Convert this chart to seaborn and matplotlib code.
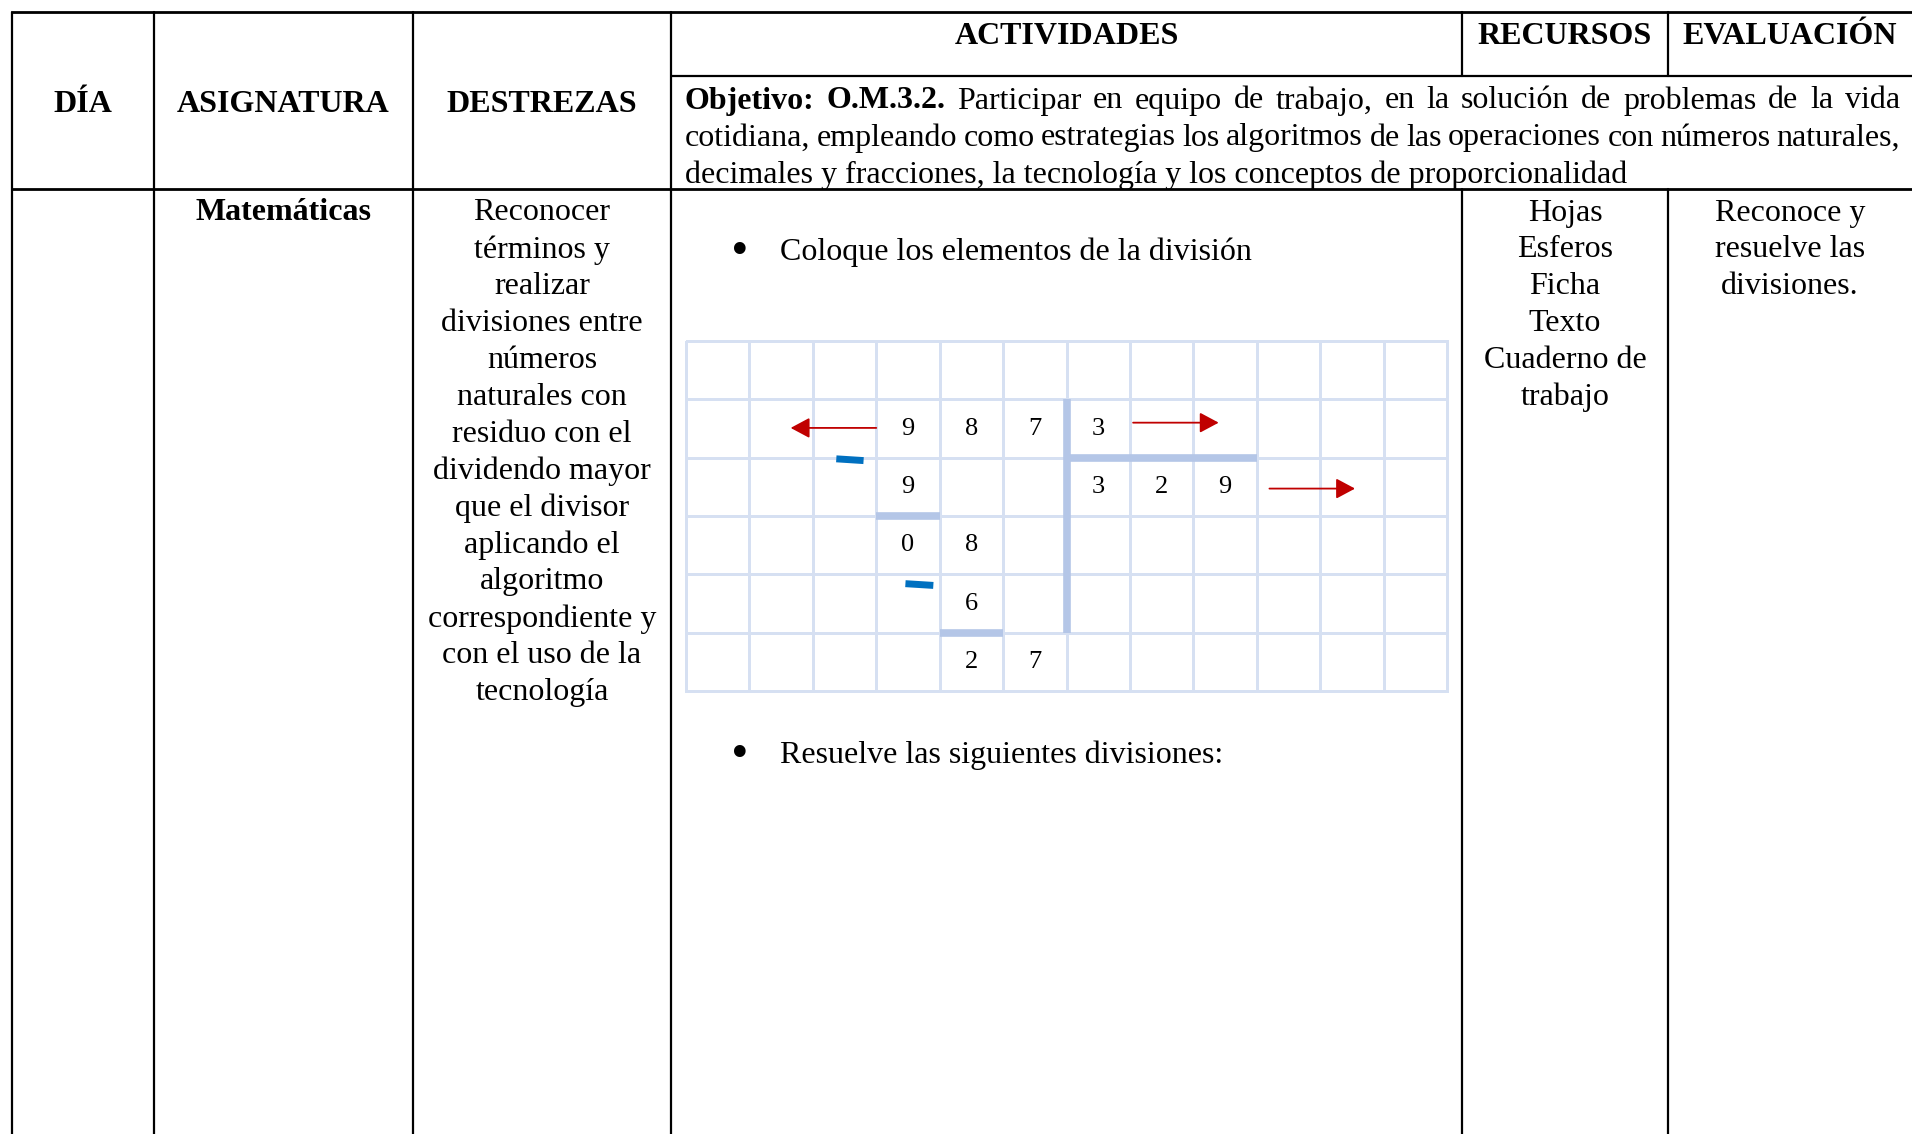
import numpy as np
import matplotlib
matplotlib.use("Agg")
import matplotlib.pyplot as plt
from matplotlib.colors import ListedColormap
import seaborn as sns

# ---------------- content ----------------
headers = ["DÍA", "ASIGNATURA", "DESTREZAS"]
top_headers = ["ACTIVIDADES", "RECURSOS", "EVALUACIÓN"]
objetivo_bold = ["Objetivo:", "O.M.3.2."]
objetivo_line1 = "Participar en equipo de trabajo, en la solución de problemas de la vida"
objetivo_line2 = "cotidiana, empleando como estrategias los algoritmos de las operaciones con números naturales,"
objetivo_line3 = "decimales y fracciones, la tecnología y los conceptos de proporcionalidad"
asignatura = "Matemáticas"
destrezas = ["Reconocer", "términos y", "realizar", "divisiones entre", "números",
             "naturales con", "residuo con el", "dividendo mayor", "que el divisor",
             "aplicando el", "algoritmo", "correspondiente y", "con el uso de la",
             "tecnología"]
recursos = ["Hojas", "Esferos", "Ficha", "Texto", "Cuaderno de", "trabajo"]
evaluacion = ["Reconoce y", "resuelve las", "divisiones."]
bullets = ["Coloque los elementos de la división", "Resuelve las siguientes divisiones:"]

# division grid (6 rows x 12 cols) contents
grid_rows, grid_cols = 6, 12
grid_digits = [  # (row, col, digit)
    (1, 3, "9"), (1, 4, "8"), (1, 5, "7"), (1, 6, "3"),
    (2, 3, "9"), (2, 6, "3"), (2, 7, "2"), (2, 8, "9"),
    (3, 3, "0"), (3, 4, "8"),
    (4, 4, "6"),
    (5, 4, "2"), (5, 5, "7"),
]

# ---------------- style ----------------
sns.set_theme(style="white")
plt.rcParams["font.family"] = ["Liberation Serif", "DejaVu Serif"]
plt.rcParams["text.color"] = "black"

W, H = 1912, 1134
fig = plt.figure(figsize=(W / 100, H / 100), dpi=100)
ax = fig.add_axes([0, 0, 1, 1])
ax.set_xlim(0, W)
ax.set_ylim(H, 0)
ax.axis("off")

FS = 23
lw_tab = 1.6
cols = [12, 154, 413, 671, 1462, 1668, W]
y_top, y_mid, y_head = 12, 76, 189
dy = 4  # baseline correction for centred text

# table lines
ax.plot([cols[0], W], [y_top, y_top], color="black", lw=lw_tab + 0.4, solid_capstyle="butt")
ax.plot([cols[3], W], [y_mid, y_mid], color="black", lw=lw_tab, solid_capstyle="butt")
ax.plot([cols[0], W], [y_head, y_head], color="black", lw=lw_tab + 0.4, solid_capstyle="butt")
for x in cols[:4]:
    ax.plot([x, x], [y_top, H], color="black", lw=lw_tab)
for x in cols[4:6]:
    ax.plot([x, x], [y_top, y_mid], color="black", lw=lw_tab)
    ax.plot([x, x], [y_head, H], color="black", lw=lw_tab)

# headers
for i, t in enumerate(headers):
    ax.text((cols[i] + cols[i + 1]) / 2, 101 + dy, t, ha="center", va="center",
            fontsize=FS, fontweight="bold")
for i, t in enumerate(top_headers):
    ax.text((cols[3 + i] + cols[4 + i]) / 2, 32 + dy, t, ha="center", va="center",
            fontsize=FS, fontweight="bold")

# objetivo justified text
fig.canvas.draw()
renderer = fig.canvas.get_renderer()


def justify(words, x0, x1, y):
    objs = []
    for w, bold in words:
        t = ax.text(0, y, w, ha="left", va="center", fontsize=FS,
                    fontweight="bold" if bold else "normal")
        objs.append(t)
    widths = [t.get_window_extent(renderer=renderer).width for t in objs]
    gap = (x1 - x0 - sum(widths)) / (len(objs) - 1)
    x = x0
    for t, w in zip(objs, widths):
        t.set_x(x)
        x += w + gap


xl, xr = 685, 1900
justify([(w, True) for w in objetivo_bold] + [(w, False) for w in objetivo_line1.split()],
        xl, xr, 97 + dy)
justify([(w, False) for w in objetivo_line2.split()], xl, xr, 134 + dy)
ax.text(xl, 171 + dy, objetivo_line3, ha="left", va="center", fontsize=FS)

# body column texts
step = 36.9
y0 = 209 + dy
ax.text((cols[1] + cols[2]) / 2, y0, asignatura, ha="center", va="center",
        fontsize=FS, fontweight="bold")
for i, t in enumerate(destrezas):
    ax.text((cols[2] + cols[3]) / 2, y0 + i * step, t, ha="center", va="center", fontsize=FS)
for i, t in enumerate(recursos):
    ax.text((cols[4] + cols[5]) / 2, y0 + i * step, t, ha="center", va="center", fontsize=FS)
for i, t in enumerate(evaluacion):
    ax.text((cols[5] + cols[6]) / 2, y0 + i * step, t, ha="center", va="center", fontsize=FS)

# bullets
for yb, t in zip([248 + dy, 751 + dy], bullets):
    ax.text(740, yb, "•", ha="center", va="center", fontsize=FS + 6,
            family=["DejaVu Sans"])
    ax.text(780, yb, t, ha="left", va="center", fontsize=FS)

# ---------------- division grid via seaborn heatmap ----------------
gx0, gx1, gy0, gy1 = 686, 1447, 341, 691
gax = fig.add_axes([gx0 / W, 1 - gy1 / H, (gx1 - gx0) / W, (gy1 - gy0) / H])
labels = np.full((grid_rows, grid_cols), "", dtype=object)
for r, c, d in grid_digits:
    labels[r, c] = d
sns.heatmap(np.zeros((grid_rows, grid_cols)), cmap=ListedColormap(["white"]), cbar=False,
            annot=labels, fmt="", linewidths=2, linecolor="#d6e0f2",
            xticklabels=False, yticklabels=False, ax=gax,
            annot_kws={"fontsize": 19, "color": "black", "family": "Liberation Serif"})
gax.collections[0].set_clip_on(False)
gax.set_facecolor("white")

thick = "#b4c6e7"
gax.plot([6, 6], [1, 5], color=thick, lw=5.5, solid_capstyle="butt", clip_on=False)
gax.plot([6, 9], [2.0, 2.0], color=thick, lw=5.5, solid_capstyle="butt", clip_on=False)
gax.plot([3, 4], [3.0, 3.0], color=thick, lw=5.5, solid_capstyle="butt", clip_on=False)
gax.plot([4, 5], [5.0, 5.0], color=thick, lw=5.5, solid_capstyle="butt", clip_on=False)

red = "#c00000"
arrow_style = dict(arrowstyle="-|>,head_length=0.58,head_width=0.31", color=red, lw=1.3,
                   mutation_scale=20, shrinkA=0, shrinkB=0)
gax.annotate("", xy=(1.65, 1.49), xytext=(3.0, 1.49), arrowprops=arrow_style)
gax.annotate("", xy=(8.4, 1.40), xytext=(7.05, 1.40), arrowprops=arrow_style)
gax.annotate("", xy=(10.55, 2.53), xytext=(9.2, 2.53), arrowprops=arrow_style)

blue = "#0070c0"
gax.plot([2.37, 2.8], [2.02, 2.05], color=blue, lw=5, solid_capstyle="butt")
gax.plot([3.46, 3.9], [4.16, 4.19], color=blue, lw=5, solid_capstyle="butt")

fig.savefig("out.png", dpi=100)
